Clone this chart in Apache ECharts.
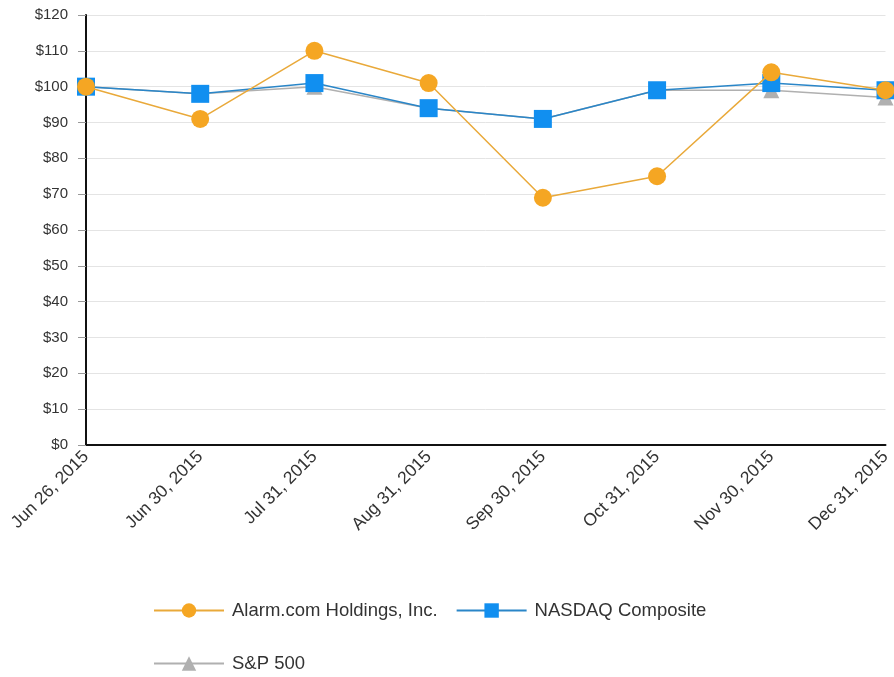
<!DOCTYPE html>
<html>
<head>
    <meta charset="utf-8">
    <title>Cumulative Total Return</title>
    <script src="https://cdn.jsdelivr.net/npm/echarts@6/dist/echarts.min.js"></script>
</head>
<body style="margin:0;background:#fff;">
    <div id="main" style="width:894px;height:677px;"></div>
    <script type="text/javascript">
        // data
        var categories = ['Jun 26, 2015', 'Jun 30, 2015', 'Jul 31, 2015', 'Aug 31, 2015',
                          'Sep 30, 2015', 'Oct 31, 2015', 'Nov 30, 2015', 'Dec 31, 2015'];
        var alarmValues = [100, 91, 110, 101, 69, 75, 104, 99];
        var nasdaqValues = [100, 98, 101, 94, 91, 99, 101, 99];
        var spValues = [100, 98, 100, 94, 91, 99, 99, 97];

        var ORANGE = '#f5a623';
        var BLUE = '#118ff0';
        var GREY = '#b0b0b0';

        var myChart = echarts.init(document.getElementById('main'));
        var option = {
            animation: false,
            textStyle: { fontFamily: 'Liberation Sans, Arial, sans-serif' },
            grid: { left: 86, right: 7, top: 15, bottom: 232, containLabel: false },
            legend: [{
                data: ['Alarm.com Holdings, Inc.', 'NASDAQ Composite'],
                left: 148, top: 596,
                itemWidth: 70, itemHeight: 18, itemGap: 18,
                textStyle: { fontSize: 18.5, color: '#333', padding: [0, 0, 0, 3] }
            }, {
                data: ['S&P 500'],
                left: 148, top: 649,
                itemWidth: 70, itemHeight: 18,
                textStyle: { fontSize: 18.5, color: '#333', padding: [0, 0, 0, 3] }
            }],
            xAxis: {
                type: 'category',
                data: categories,
                boundaryGap: false,
                axisLine: { lineStyle: { color: '#111', width: 2 } },
                axisTick: { show: false },
                axisLabel: { rotate: 45, fontSize: 17.5, color: '#333', margin: 9, interval: 0 }
            },
            yAxis: {
                type: 'value',
                min: 0, max: 120, interval: 10,
                axisLine: { show: true, lineStyle: { color: '#111', width: 2 } },
                axisTick: { show: true, length: 8, lineStyle: { color: '#999' } },
                axisLabel: {
                    fontSize: 15, color: '#333', margin: 18,
                    formatter: function (v) { return '$' + v; }
                },
                splitLine: { lineStyle: { color: '#e4e4e4' } }
            },
            series: [{
                name: 'S&P 500',
                type: 'line',
                data: spValues,
                symbol: 'triangle', symbolSize: 16,
                itemStyle: { color: GREY },
                lineStyle: { color: GREY, width: 1.5 },
                z: 2
            }, {
                name: 'NASDAQ Composite',
                type: 'line',
                data: nasdaqValues,
                symbol: 'rect', symbolSize: 18,
                itemStyle: { color: BLUE },
                lineStyle: { color: '#2a86c8', width: 1.5 },
                z: 3
            }, {
                name: 'Alarm.com Holdings, Inc.',
                type: 'line',
                data: alarmValues,
                symbol: 'circle', symbolSize: 18,
                itemStyle: { color: ORANGE },
                lineStyle: { color: '#e9a93a', width: 1.5 },
                z: 4
            }]
        };
        myChart.setOption(option);
    </script>
</body>
</html>
